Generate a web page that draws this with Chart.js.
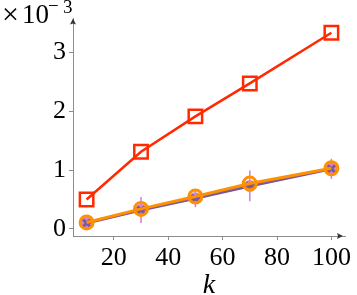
<!DOCTYPE html>
<html>
<head>
<meta charset="utf-8">
<script src="https://cdn.jsdelivr.net/npm/chart.js@4"></script>
<style>
  html, body { margin: 0; padding: 0; background: #fff; }
  #wrap { width: 357px; height: 295px; }
</style>
</head>
<body>
<div id="wrap"><canvas id="myChart" width="357" height="295"></canvas></div>
<script>
// values (y values in units of 1e-3)
var kValues = [10, 30, 50, 70, 100];
var squareSeries = [0.50, 1.31, 1.91, 2.47, 3.33];
var circleSeries = [0.11, 0.34, 0.55, 0.77, 1.03];
var crossSeries = [0.10, 0.32, 0.52, 0.73, 1.02];
var crossErrors = [0.05, 0.22, 0.15, 0.26, 0.17];
var xTicks = [20, 40, 60, 80, 100];
var yTicks = [0, 1, 2, 3];

var axisGray = '#8c8c8c';
var font = "'Liberation Serif', 'DejaVu Serif', serif";

function pts(ys) {
    return kValues.map(function (k, i) { return {x: k, y: ys[i]}; });
}

// error bars for the purple series, drawn under the lines
var errorBars = {
    id: 'errorBars',
    beforeDatasetsDraw: function (chart) {
        var ctx = chart.ctx, xs = chart.scales.x, ys = chart.scales.y;
        ctx.save();
        ctx.strokeStyle = '#d67ad6';
        ctx.lineWidth = 1.5;
        for (var i = 0; i < kValues.length; i++) {
            var px = xs.getPixelForValue(kValues[i]);
            ctx.beginPath();
            ctx.moveTo(px, ys.getPixelForValue(crossSeries[i] - crossErrors[i]));
            ctx.lineTo(px, ys.getPixelForValue(crossSeries[i] + crossErrors[i]));
            ctx.stroke();
        }
        ctx.restore();
    }
};

// axis arrows and the exponent label
var decorations = {
    id: 'decorations',
    afterDraw: function (chart) {
        var ctx = chart.ctx, a = chart.chartArea;
        ctx.save();
        ctx.fillStyle = '#333';
        // x arrow
        ctx.beginPath();
        ctx.moveTo(a.right - 2, a.bottom);
        ctx.lineTo(a.right - 8, a.bottom - 3);
        ctx.lineTo(a.right - 7, a.bottom);
        ctx.lineTo(a.right - 8, a.bottom + 3);
        ctx.closePath();
        ctx.fill();
        // y arrow
        ctx.beginPath();
        ctx.moveTo(a.left, a.top);
        ctx.lineTo(a.left - 3, a.top + 6);
        ctx.lineTo(a.left, a.top + 5);
        ctx.lineTo(a.left + 3, a.top + 6);
        ctx.closePath();
        ctx.fill();

        ctx.fillStyle = '#000';
        ctx.textBaseline = 'alphabetic';
        ctx.textAlign = 'left';
        ctx.font = '30px ' + font;
        ctx.fillText('\u00d7', 2, 24);
        ctx.font = '27px ' + font;
        ctx.fillText('10', 22, 23);
        ctx.font = '19px ' + font;
        ctx.fillText('\u2212', 48, 12);
        ctx.fillText('3', 63, 13);
        ctx.restore();
    }
};

var ctx = document.getElementById('myChart');
var myChart = new Chart(ctx, {
    type: 'line',
    data: {
        datasets: [
            {
                data: pts(squareSeries),
                borderColor: '#ff2a00',
                borderWidth: 2.5,
                pointStyle: 'rect',
                pointRadius: 9.5,
                pointBorderWidth: 2.5,
                pointBorderColor: '#ff2a00',
                pointBackgroundColor: 'rgba(0,0,0,0)',
                order: 0
            },
            {
                data: pts(circleSeries),
                borderColor: '#ff9000',
                borderWidth: 3,
                pointStyle: 'circle',
                pointRadius: 6.5,
                pointBorderWidth: 3,
                pointBorderColor: '#ff9000',
                pointBackgroundColor: 'rgba(0,0,0,0)',
                order: 1
            },
            {
                data: pts(crossSeries),
                borderColor: '#7a5a9e',
                borderWidth: 3,
                pointStyle: 'crossRot',
                pointRadius: 5,
                pointBorderWidth: 3,
                pointBorderColor: '#7a5a9e',
                order: 2
            },
            {
                data: pts(crossSeries),
                borderColor: '#d67ad6',
                borderWidth: 2,
                pointStyle: 'circle',
                pointRadius: 6,
                pointBorderWidth: 0,
                pointBackgroundColor: '#dc82cc',
                order: 3
            }
        ]
    },
    options: {
        responsive: false,
        animation: false,
        layout: { padding: { top: 15, right: 11, left: 0, bottom: 0 } },
        plugins: { legend: { display: false }, tooltip: { enabled: false } },
        scales: {
            x: {
                type: 'linear',
                min: 5,
                max: 105,
                afterBuildTicks: function (axis) {
                    axis.ticks = xTicks.map(function (v) { return {value: v}; });
                },
                afterFit: function (axis) { axis.height = 59; },
                grid: { drawOnChartArea: false, tickLength: 4, color: axisGray },
                border: { color: axisGray, width: 1 },
                ticks: { color: '#000', font: { family: font, size: 26 }, padding: 3, maxRotation: 0 },
                title: {
                    display: true,
                    text: 'k',
                    color: '#000',
                    font: { family: font, size: 28, style: 'italic' },
                    padding: { top: 0, bottom: -7 }
                }
            },
            y: {
                type: 'linear',
                min: -0.12,
                max: 3.57,
                afterBuildTicks: function (axis) {
                    axis.ticks = yTicks.map(function (v) { return {value: v}; });
                },
                afterFit: function (axis) { axis.width = 73; },
                grid: { drawOnChartArea: false, tickLength: 4, color: axisGray },
                border: { color: axisGray, width: 1 },
                ticks: { color: '#000', font: { family: font, size: 26 }, padding: 3 }
            }
        }
    },
    plugins: [errorBars, decorations]
});
</script>
</body>
</html>
